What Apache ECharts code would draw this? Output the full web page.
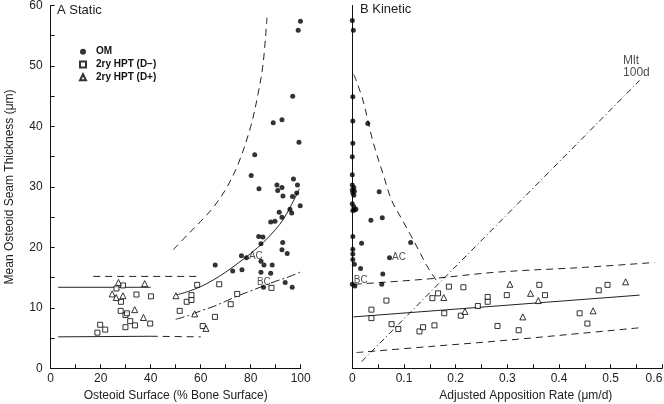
<!DOCTYPE html>
<html><head><meta charset="utf-8">
<script src="https://cdn.jsdelivr.net/npm/echarts/dist/echarts.min.js"></script>
<style>html,body{margin:0;padding:0;background:#fff}#c{width:664px;height:404px}</style>
</head><body><div id="c"></div>
<script>
// ---------- Panel A (Static): x = Osteoid Surface (%), y = MOST (µm)
const staticOM = [[99.9,57.4],[99.0,55.9],[96.8,45.0],[89.0,40.6],[92.5,41.1],[99.3,37.4],[81.6,35.3],[80.2,31.9],[83.3,29.7],[90.5,30.3],[90.8,29.4],[92.5,29.9],[92.9,28.5],[97.1,31.3],[98.7,30.3],[98.4,29.0],[96.7,28.4],[99.8,26.9],[95.7,26.3],[96.4,25.7],[91.4,25.8],[92.5,25.0],[88.0,24.2],[89.7,24.3],[83.2,21.8],[84.9,21.7],[84.1,20.6],[92.8,20.8],[92.5,19.6],[94.6,19.0],[76.3,18.6],[78.3,18.3],[84.1,17.7],[85.3,17.1],[88.6,17.1],[65.8,17.1],[72.8,16.1],[76.5,16.3],[84.1,15.9],[88.0,15.7],[93.8,14.2],[85.1,13.4],[96.6,13.4]];
const staticDminus = [[18.7,5.9],[19.8,7.2],[21.8,6.4],[26.3,13.2],[28.9,13.7],[28.1,11.0],[28.0,9.5],[29.9,8.8],[30.5,9.1],[29.9,6.8],[31.8,7.8],[33.7,7.1],[34.3,12.2],[40.1,11.9],[39.8,7.4],[51.6,9.5],[54.4,11.0],[56.3,12.1],[56.3,11.3],[58.6,13.8],[67.4,13.9],[60.8,7.0],[65.7,8.5],[74.6,12.3],[72.0,10.6],[88.3,13.3]];
const staticDplus = [[27.1,14.2],[37.6,14.0],[24.6,12.3],[26.2,11.7],[28.9,12.0],[33.6,9.7],[37.1,8.4],[50.1,12.0],[57.6,9.0],[62.1,6.6]];
// reference lines / curves
const staticMeanLine = [[3,13.4],[40,13.4]];
const staticLowSolid = [[3,5.2],[40,5.3]];
const staticLowDashed = [[40,5.3],[60,5.2]];
const staticHighDashed = [[17,15.2],[60,15.2]];
const staticAC = [[50,12.1],[55,12.7],[60,13.5],[65,14.6],[70,15.9],[75,17.4],[80,19.0],[85,20.8],[90,23.0],[93,24.6],[96,26.8],[99.5,29.7]];
const staticBC = [[50,8.1],[55,8.7],[60,9.5],[65,10.2],[70,11.1],[75,12.0],[80,12.8],[85,13.6],[90,14.4],[95,15.1],[99.8,15.9]];
const staticUpper = [[49,19.6],[55,22.2],[60,24.3],[65,26.6],[70,29.6],[75,33.8],[80,40.0],[83,45.5],[85,50.5],[86.5,58]];

// ---------- Panel B (Kinetic): x = Adjusted Apposition Rate (µm/d)
const kineticOM = [[0,57.5],[0.002,55.9],[0.001,44.9],[0.001,40.9],[0.030,40.5],[0.001,37.2],[0,35.0],[0,32.0],[0,30.3],[0.003,29.9],[0,29.5],[0.004,29.3],[0.001,29.0],[0.003,28.6],[0.052,29.2],[0,27.2],[0.003,26.7],[0.001,26.1],[0.004,26.2],[0.007,26.3],[0.036,24.5],[0.058,24.9],[0.001,21.8],[0.018,20.7],[0.113,20.8],[0.001,19.7],[0.001,18.9],[0.001,18.0],[0.004,17.2],[0.072,18.3],[0.016,16.5],[0.059,15.6],[0,13.9],[0.005,13.6],[0.057,13.9]];
const kineticDminus = [[0.037,9.7],[0.037,8.3],[0.066,11.2],[0.076,7.3],[0.089,6.5],[0.130,6.1],[0.137,6.8],[0.159,7.1],[0.155,11.6],[0.166,12.4],[0.187,13.5],[0.178,9.1],[0.210,8.7],[0.215,13.4],[0.243,10.3],[0.262,11.8],[0.262,11.0],[0.281,7.0],[0.299,12.1],[0.322,6.3],[0.362,13.8],[0.373,12.1],[0.440,9.1],[0.455,7.4],[0.477,12.9],[0.494,13.8]];
const kineticDplus = [[0.177,11.7],[0.218,9.4],[0.305,13.9],[0.345,12.4],[0.330,8.5],[0.360,11.2],[0.466,9.5],[0.529,14.3]];
const kineticRegression = [[0.002,8.5],[0.556,12.1]];
const kineticUpperBand = [[0.005,13.9],[0.15,14.8],[0.28,15.9],[0.45,16.7],[0.585,17.5]];
const kineticLowerBand = [[0.008,2.6],[0.15,3.6],[0.28,4.5],[0.42,5.6],[0.556,6.7]];
const kineticMlt = [[0.018,1.1],[0.556,47.6]];
const kineticCurve = [[0.003,48.6],[0.02,44.5],[0.04,37.5],[0.06,32.0],[0.076,27.8],[0.095,24.8],[0.113,22.0],[0.13,19.3],[0.144,17.0],[0.163,14.5]];

// tick labels
const staticXTicks = [0,20,40,60,80,100];
const kineticXTicks = [0,0.1,0.2,0.3,0.4,0.5,0.6];
const yTicks = [0,10,20,30,40,50,60];

// annotations [x, y, text, panel]
const annotations = [[79.3,18.6,'AC',0],[82.5,14.3,'BC',0],[0.077,18.4,'AC',1],[0.003,14.5,'BC',1],[0.524,49.85,'Mlt\n100d',1]];

const NAMES = ['OM','2ry HPT (D\u2212)','2ry HPT (D+)'];
const FONT = 'Liberation Sans, Arial, sans-serif';
const chart = echarts.init(document.getElementById('c'), null, {renderer:'canvas'});

function pts(name, data, gi, kind){
  const base = {name, type:'scatter', xAxisIndex:gi, yAxisIndex:gi, data, z:5};
  if (kind==='om') return Object.assign(base,{symbol:'circle',symbolSize:5,itemStyle:{color:'#000'}});
  if (kind==='sq') return Object.assign(base,{symbol:'rect',symbolSize:5,itemStyle:{color:'#fff',borderColor:'#000',borderWidth:1}});
  return Object.assign(base,{symbol:'triangle',symbolSize:6,itemStyle:{color:'#fff',borderColor:'#000',borderWidth:1}});
}
function curve(data, gi, dash, smooth){
  return {type:'line', xAxisIndex:gi, yAxisIndex:gi, data, symbol:'none', smooth:smooth?0.35:false, silent:true,
    lineStyle:{color:'#222', width:1, type:dash}, z:3};
}
const DASH=[7,5], DASHDOT=[9,3,2,3], MLT=[6,3,1,3];

const series = [
  pts(NAMES[0], staticOM, 0, 'om'),
  pts(NAMES[1], staticDminus, 0, 'sq'),
  pts(NAMES[2], staticDplus, 0, 'tri'),
  pts(NAMES[0], kineticOM, 1, 'om'),
  pts(NAMES[1], kineticDminus, 1, 'sq'),
  pts(NAMES[2], kineticDplus, 1, 'tri'),
  curve(staticMeanLine,0,'solid'),
  curve(staticLowSolid,0,'solid'),
  curve(staticLowDashed,0,DASH),
  curve(staticHighDashed,0,DASH),
  curve(staticAC,0,'solid',true),
  curve(staticBC,0,DASHDOT,true),
  curve(staticUpper,0,DASH,true),
  curve(kineticRegression,1,'solid'),
  curve(kineticUpperBand,1,DASH,true),
  curve(kineticLowerBand,1,DASH,true),
  curve(kineticMlt,1,MLT),
  curve(kineticCurve,1,DASH,true)
];
[0,1].forEach(gi=>{
  series.push({type:'scatter', xAxisIndex:gi, yAxisIndex:gi, symbolSize:0, silent:true, z:6,
    data: annotations.filter(a=>a[3]===gi).map(a=>({value:[a[0],a[1]], label:{formatter:a[2]}})),
    label:{show:true, position:'right', distance:0, color:'#222', fontFamily:FONT,
      fontSize:10, lineHeight:12}});
});
// larger font for Mlt label
series[series.length-1].data.forEach(d=>{ if(d.label.formatter.indexOf('Mlt')===0){ d.label.fontSize=12; d.label.lineHeight=12.5; }});

const axisLineStyle = {lineStyle:{color:'#111', width:1}};
const labelStyle = {color:'#222', fontSize:12, fontFamily:FONT};
const option = {
  backgroundColor:'#fff',
  animation:false,
  textStyle:{fontFamily:FONT},
  grid:[
    {left:50.7, top:5.5, width:250, height:362.8, containLabel:false, outerBoundsMode:'none'},
    {left:352.3, top:5.5, width:310, height:362.8, containLabel:false, outerBoundsMode:'none'}
  ],
  title:[
    {text:'A Static', left:57, top:4, padding:0, textStyle:{fontSize:13, fontWeight:'normal', color:'#222', fontFamily:FONT}},
    {text:'B Kinetic', left:360, top:3, padding:0, textStyle:{fontSize:13, fontWeight:'normal', color:'#222', fontFamily:FONT}}
  ],
  legend:{
    data: NAMES.map(n=>({name:n})),
    orient:'vertical', left:79, top:45.7, padding:0, itemWidth:6, itemHeight:6, itemGap:0.8,
    selectedMode:false,
    textStyle:{fontSize:10, fontWeight:'bold', color:'#111', fontFamily:FONT, lineHeight:12, padding:[0,0,0,5]}
  },
  xAxis:[
    {gridIndex:0, type:'value', min:0, max:100, interval:20,
     name:'Osteoid Surface (% Bone Surface)', nameLocation:'middle', nameGap:21,
     nameTextStyle:{fontSize:12, color:'#222', fontFamily:FONT},
     axisLine:axisLineStyle, axisTick:{inside:true, length:4, lineStyle:{color:'#111'}},
     minorTick:{show:true, splitNumber:2, length:4, lineStyle:{color:'#111'}},
     axisLabel:Object.assign({margin:4, formatter:v=>staticXTicks.includes(v)?String(v):''}, labelStyle),
     splitLine:{show:false}, minorSplitLine:{show:false}},
    {gridIndex:1, type:'value', min:0, max:0.6, interval:0.1,
     name:'Adjusted Apposition Rate (\u03bcm/d)', nameLocation:'middle', nameGap:21,
     nameTextStyle:{fontSize:12, color:'#222', fontFamily:FONT, padding:[0,0,0,37]},
     axisLine:axisLineStyle, axisTick:{inside:true, length:4, lineStyle:{color:'#111'}},
     minorTick:{show:true, splitNumber:2, length:4, lineStyle:{color:'#111'}},
     axisLabel:Object.assign({margin:4, alignMaxLabel:'right', formatter:v=>{const t=kineticXTicks.find(k=>Math.abs(k-v)<1e-9); return t===undefined?'':String(t);}}, labelStyle),
     splitLine:{show:false}, minorSplitLine:{show:false}},
  ],
  yAxis:[
    {gridIndex:0, type:'value', min:0, max:60, interval:10,
     name:'Mean Osteoid Seam Thickness (\u03bcm)', nameLocation:'middle', nameGap:35,
     nameTextStyle:{fontSize:12, color:'#222', fontFamily:FONT},
     axisLine:Object.assign({show:true}, axisLineStyle), axisTick:{inside:true, length:4, lineStyle:{color:'#111'}},
     minorTick:{show:true, splitNumber:2, length:4, lineStyle:{color:'#111'}},
     axisLabel:Object.assign({margin:8, formatter:v=>yTicks.includes(v)?String(v):''}, labelStyle),
     splitLine:{show:false}, minorSplitLine:{show:false}},
    {gridIndex:1, type:'value', min:0, max:60, interval:10,
     axisLine:Object.assign({show:true}, axisLineStyle), axisTick:{show:false},
     axisLabel:{show:false}, splitLine:{show:false}}
  ],
  series
};
chart.setOption(option);
</script></body></html>
